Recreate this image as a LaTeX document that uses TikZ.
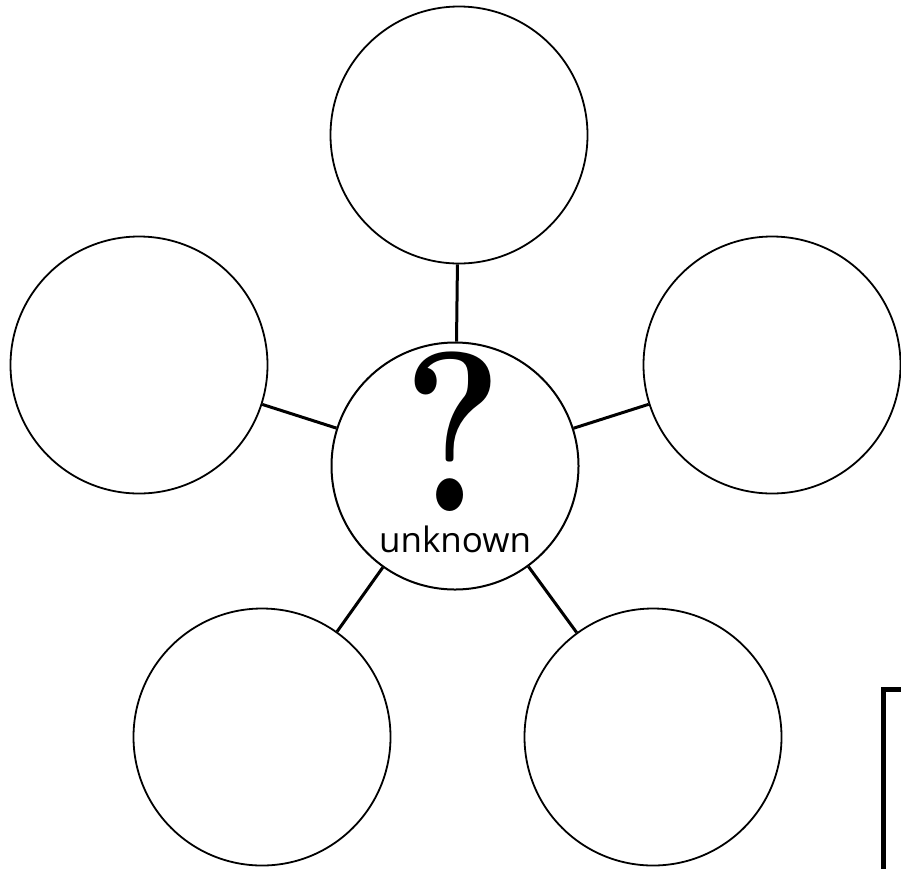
\documentclass[tikz,border=0pt]{standalone}
\usepackage{fontspec}
\newfontfamily\labelfont{Open Sans}
\usepackage{tikz}
\usetikzlibrary{positioning}

\tikzset{
  bubble/.style={draw, circle, line width=1.8pt, minimum size=257pt, inner sep=0pt},
  hub/.style={draw, circle, line width=2pt, minimum size=247pt, inner sep=0pt},
  spoke/.style={line width=3pt}
}

\begin{document}
\begin{tikzpicture}[x=1pt, y=-1pt]
\useasboundingbox (0,0) rectangle (901,868);

% Central circle with the question
\node[hub] (hub) at (455,466) {};
\node[inner sep=0pt, anchor=south] (qmark) at (453,512)
  {\scalebox{0.82}[1]{\fontsize{228}{228}\selectfont\bfseries ?}};
\node[inner sep=0pt, anchor=base] (qlabel) at (455,552)
  {\labelfont\fontsize{35}{35}\selectfont unknown};

% Outer circles
\node[bubble] (topc)   at (459,135) {};
\node[bubble] (leftc)  at (139,365) {};
\node[bubble] (rightc) at (772,365) {};
\node[bubble] (botl)   at (262,737) {};
\node[bubble] (botr)   at (653,737) {};

% Spokes
\foreach \n in {topc,leftc,rightc,botl,botr}
  \draw[spoke] (hub) -- (\n);

% Box corner at the bottom right
\coordinate (boxa) at (883.5,872);
\coordinate (boxb) at (905,689.5);
\draw[line width=4.5pt] (boxa) |- (boxb);

\end{tikzpicture}
\end{document}
